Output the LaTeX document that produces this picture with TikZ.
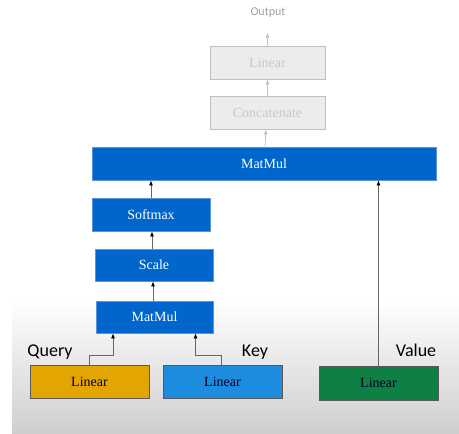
\documentclass[tikz,border=0pt]{standalone}
\usepackage{fontspec}
\setmainfont{Liberation Serif}
\newfontfamily\calfont{Carlito}
\usepackage{tikz}
\usetikzlibrary{calc}
\usetikzlibrary{positioning}
\usetikzlibrary{arrows.meta}

\definecolor{mmblue}{RGB}{0,102,204}
\definecolor{mmedge}{RGB}{90,150,215}
\definecolor{keyblue}{RGB}{30,140,222}
\definecolor{qgold}{RGB}{227,166,0}
\definecolor{vgreen}{RGB}{15,128,67}
\definecolor{fadefill}{RGB}{236,236,236}
\definecolor{fadeedge}{RGB}{192,192,192}
\definecolor{fadetext}{RGB}{200,200,200}
\definecolor{bggray}{RGB}{206,206,206}

\begin{document}
\begin{tikzpicture}[x=1pt, y=-1pt,
	box/.style={rectangle, draw, line width=0.8pt, inner sep=0pt, minimum height=33pt, font=\fontsize{14}{16}\selectfont},
	opbox/.style={box, fill=mmblue, draw=mmedge, text=white},
	fadebox/.style={box, fill=fadefill, draw=fadeedge, text=fadetext, minimum width=115pt},
	linbox/.style={box, draw=black!65, text=black!85!blue, minimum width=119pt},
	tag/.style={font=\calfont\fontsize{18}{20}\selectfont, text=black},
	conn/.style={line width=0.8pt, draw=black!60, -{Latex[length=5pt,width=4pt,black]}},
	fadeconn/.style={line width=0.8pt, draw=fadeedge, -{Latex[length=5pt,width=4pt]}}]
	\useasboundingbox (0,0) rectangle (459,434);
	% shaded floor behind the inputs
	\shade[top color=white, bottom color=bggray] (12,300) rectangle (459,434);

	% faded output stage
	\node[font=\calfont\fontsize{12}{14}\selectfont, text=black!38] (out) at (268,13) {Output};
	\node[fadebox] (lin) at (267.5,62.5) {Linear};
	\node[fadebox] (cat) at (267.5,112.5) {Concatenate};

	% attention blocks
	\node[opbox, minimum width=344pt] (mm2) at (264,163.5) {MatMul};
	\node[opbox, minimum width=118pt] (soft) at (151,214.5) {Softmax};
	\node[opbox, minimum width=118pt, minimum height=32pt] (scale) at (154,265) {Scale};
	\node[opbox, minimum width=117pt, minimum height=32pt] (mm1) at (154.5,317) {MatMul};

	% input projections
	\node[linbox, fill=qgold] (qlin) at (89.5,381.5) {Linear};
	\node[linbox, fill=keyblue] (klin) at (222.5,381.5) {Linear};
	\node[linbox, fill=vgreen, minimum height=34pt] (vlin) at (378.5,383) {Linear};
	\node[tag] (q) at (50,352) {Query};
	\node[tag] (k) at (255,352) {Key};
	\node[tag] (v) at (416,350) {Value};

	\draw[fadeconn] (lin.north) -- ++(0,-13);
	\draw[fadeconn] (cat.north) -- (cat.north |- lin.south);
	\draw[fadeconn] ([xshift=1pt]mm2.north) -- ([xshift=-1.5pt]cat.south);

	\draw[conn] (soft.north) -- (soft.north |- mm2.south);
	\draw[conn] ([xshift=-2pt]scale.north) -- ([xshift=-2pt]scale.north |- soft.south);
	\draw[conn] ([xshift=-1.5pt]mm1.north) -- ([xshift=-1.5pt]mm1.north |- scale.south);

	\draw[conn] ([xshift=-0.5pt]qlin.north) -- ++(0,-9) -| ([xshift=-41.5pt]mm1.south);
	\draw[conn] ([xshift=-1.5pt]klin.north) -- ++(0,-9) -| ([xshift=41pt]mm1.south);
	\draw[conn] (vlin.north) -- (vlin.north |- mm2.south);
\end{tikzpicture}
\end{document}
